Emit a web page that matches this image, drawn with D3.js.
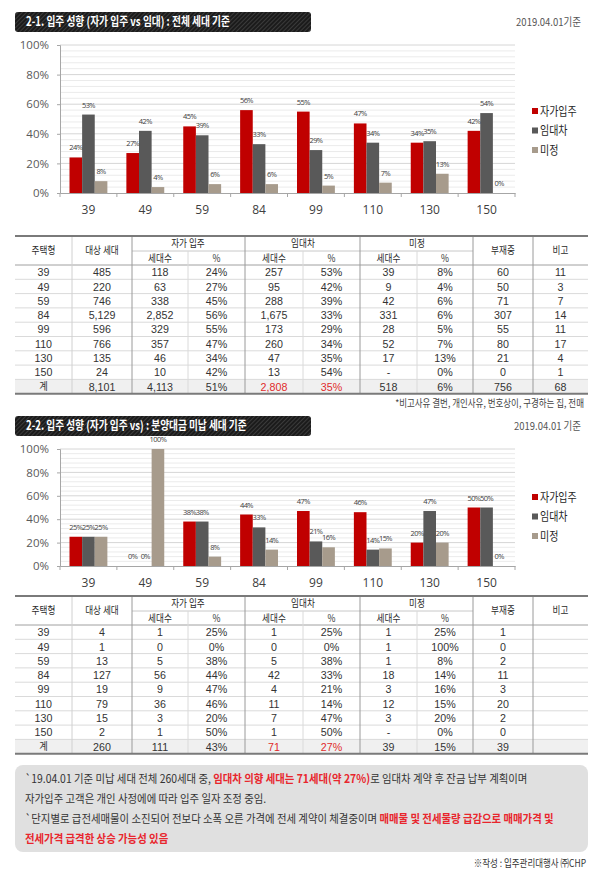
<!DOCTYPE html>
<html>
<head>
<meta charset="utf-8">
<script src="https://cdn.jsdelivr.net/npm/d3@7"></script>
<style>
body{margin:0;background:#fff}
svg{display:block}
</style>
</head>
<body>
<script>
// 데이터 - 주택형 / 계열
var types = ["39","49","59","84","99","110","130","150"];
var seriesNames = ["자가입주","임대차","미정"];
var colors = ["#c00000","#595959","#a79b8c"];
var yTicks = [0,20,40,60,80,100];

// 2-1 차트 (%)
var own1 = [24,27,45,56,55,47,34,42];
var rent1 = [53,42,39,33,29,34,35,54];
var undec1 = [8,4,6,6,5,7,13,0];

// 2-2 차트 (%)
var own2 = [25,0,38,44,47,46,20,50];
var rent2 = [25,0,38,33,21,14,47,50];
var undec2 = [25,100,8,14,16,15,20,0];

// 표 2-1
var rowLabels = ["39","49","59","84","99","110","130","150","계"];
var total1 = ["485","220","746","5,129","596","766","135","24","8,101"];
var ownCnt1 = ["118","63","338","2,852","329","357","46","10","4,113"];
var ownPct1 = ["24%","27%","45%","56%","55%","47%","34%","42%","51%"];
var rentCnt1 = ["257","95","288","1,675","173","260","47","13","2,808"];
var rentPct1 = ["53%","42%","39%","33%","29%","34%","35%","54%","35%"];
var undCnt1 = ["39","9","42","331","28","52","17","-","518"];
var undPct1 = ["8%","4%","6%","6%","5%","7%","13%","0%","6%"];
var absent1 = ["60","50","71","307","55","80","21","0","756"];
var note1 = ["11","3","7","14","11","17","4","1","68"];

// 표 2-2
var total2 = ["4","1","13","127","19","79","15","2","260"];
var ownCnt2 = ["1","0","5","56","9","36","3","1","111"];
var ownPct2 = ["25%","0%","38%","44%","47%","46%","20%","50%","43%"];
var rentCnt2 = ["1","0","5","42","4","11","7","1","71"];
var rentPct2 = ["25%","0%","38%","33%","21%","14%","47%","50%","27%"];
var undCnt2 = ["1","1","1","18","3","12","3","-","39"];
var undPct2 = ["25%","100%","8%","14%","16%","15%","20%","0%","15%"];
var absent2 = ["1","0","2","11","3","20","2","0","39"];
var note2 = ["","","","","","","","",""];

var KR = "'Noto Sans CJK KR', 'Noto Sans', sans-serif";
var NUM = "'Open Sans', 'Noto Sans', sans-serif";
var TNUM = "'Liberation Sans', Arial, sans-serif";

var svg = d3.select("body").append("svg").attr("width",605).attr("height",874);
var defs = svg.append("defs");
var pat = defs.append("pattern").attr("id","carbon").attr("width",3).attr("height",3)
    .attr("patternUnits","userSpaceOnUse").attr("patternTransform","rotate(45)");
pat.append("rect").attr("width",3).attr("height",3).attr("fill","#1b1b1b");
pat.append("rect").attr("width",1).attr("height",3).attr("fill","#3a3a3a");

// 글자 폭 맞추기
function fitText(t, width, anchor)
{
    let bb = t.node().getBBox();
    let s = width / bb.width;
    let x0 = anchor == "end" ? bb.x + bb.width : bb.x;
    t.attr("transform","translate("+x0+",0) scale("+s+",1) translate("+(-x0)+",0)");
    return s;
}
function condense(t, s)
{
    let x0 = +t.attr("x");
    t.attr("transform","translate("+x0+",0) scale("+s+",1) translate("+(-x0)+",0)");
}

// 제목 막대
function drawTitle(y, title, titleW, date, dateW)
{
    svg.append("rect").attr("x",15).attr("y",y).attr("width",296).attr("height",20).attr("rx",3)
        .attr("fill","url(#carbon)");
    let t = svg.append("text").attr("x",26).attr("y",y+14.5).attr("fill","#fff")
        .attr("font-family",KR).attr("font-weight","bold").attr("font-size",12.5).text(title);
    fitText(t, titleW, "start");
    let d = svg.append("text").attr("x",581).attr("y",y+14).attr("fill","#555")
        .attr("text-anchor","end").attr("font-family",KR).attr("font-size",11).text(date);
    fitText(d, dateW, "end");
}

// 막대 차트
function drawChart(top, bottom, own, rent, und, legendY)
{
    let y = d3.scaleLinear().domain([0,100]).range([bottom, top]);
    let x = d3.scaleBand().domain(types).range([60,515]);
    let xs = d3.scaleBand().domain([0,1,2]).range([9.5, x.bandwidth()-9.5]);
    let g = svg.append("g");

    let minor = d3.range(4,100,4).filter(v => v % 20 != 0);
    g.selectAll("line.minor").data(minor).join("line")
        .attr("x1",60).attr("x2",515).attr("y1",d => y(d)).attr("y2",d => y(d))
        .attr("stroke","#ebebeb").attr("stroke-width",1);
    g.selectAll("line.major").data(yTicks.slice(1)).join("line")
        .attr("x1",60).attr("x2",515).attr("y1",d => y(d)).attr("y2",d => y(d))
        .attr("stroke","#d6d6d6").attr("stroke-width",1);

    let rows = types.map((t,i) => ({t:t, vals:[own[i],rent[i],und[i]]}));
    let grp = g.selectAll("g.grp").data(rows).join("g").attr("transform",d => "translate("+x(d.t)+",0)");
    grp.selectAll("rect").data(d => d.vals).join("rect")
        .attr("x",(d,i) => xs(i)).attr("width",xs.bandwidth())
        .attr("y",d => y(d)).attr("height",d => y(0)-y(d))
        .attr("fill",(d,i) => colors[i]);
    grp.selectAll("text").data(d => d.vals).join("text")
        .attr("x",(d,i) => xs(i)+xs.bandwidth()/2).attr("y",d => y(d)-7)
        .attr("text-anchor","middle").attr("font-family",NUM).attr("font-size",7.5)
        .attr("letter-spacing",-0.6).attr("fill","#404040").text(d => d+"%");

    let ay = g.append("g").attr("transform","translate(60,0)")
        .call(d3.axisLeft(y).tickValues(yTicks).tickFormat(d => d+"%").tickSize(3).tickPadding(8));
    ay.select(".domain").attr("stroke","#a6a6a6");
    ay.selectAll(".tick line").attr("stroke","#a6a6a6");
    ay.selectAll("text").attr("font-family",NUM).attr("font-size",11.5).attr("fill","#595959");

    let ax = g.append("g").attr("transform","translate(0,"+bottom+")")
        .call(d3.axisBottom(x).tickSize(0).tickPadding(12));
    ax.select(".domain").attr("stroke","#a6a6a6");
    ax.selectAll("text").attr("font-family",NUM).attr("font-size",12).attr("fill","#404040");
    let edges = types.map(t => x(t)).concat([515]);
    g.selectAll("line.xt").data(edges).join("line")
        .attr("x1",d => d).attr("x2",d => d).attr("y1",bottom).attr("y2",bottom+4)
        .attr("stroke","#a6a6a6");

    let lg = g.selectAll("g.lg").data(seriesNames).join("g")
        .attr("transform",(d,i) => "translate(532,"+(legendY+i*19.5)+")");
    lg.append("rect").attr("x",0).attr("y",-3).attr("width",6).attr("height",6).attr("fill",(d,i) => colors[i]);
    lg.append("text").attr("x",8).attr("y",4.5).attr("font-family",KR).attr("font-size",12.5)
        .attr("fill","#262626").text(d => d).each(function(){ condense(d3.select(this),0.8); });
}

// 표
var colEdges = [15,72,132,188,245,303,360,417,473,533,588];
function drawTable(top, cols, redCols)
{
    let rowH = 14.3;
    let hb = top + 29;
    let bottom = hb + rowH*rowLabels.length;
    let g = svg.append("g");
    let mid = i => (colEdges[i]+colEdges[i+1])/2;

    g.append("rect").attr("x",15).attr("y",hb+rowH*8).attr("width",573).attr("height",rowH).attr("fill","#f0f0f0");

    // 가로선
    d3.range(1,9).forEach(i => {
        g.append("line").attr("x1",15).attr("x2",588).attr("y1",hb+rowH*i).attr("y2",hb+rowH*i)
            .attr("stroke","#dadada");
    });
    g.append("line").attr("x1",132).attr("x2",473).attr("y1",top+15).attr("y2",top+15).attr("stroke","#c8c8c8");
    g.append("line").attr("x1",15).attr("x2",588).attr("y1",hb).attr("y2",hb).attr("stroke","#a0a0a0");
    // 세로선
    [72].forEach(v => g.append("line").attr("x1",v).attr("x2",v).attr("y1",top).attr("y2",bottom).attr("stroke","#d0d0d0"));
    [132,245,360,473,533].forEach(v => g.append("line").attr("x1",v).attr("x2",v).attr("y1",top).attr("y2",bottom).attr("stroke","#9a9a9a"));
    [188,303,417].forEach(v => g.append("line").attr("x1",v).attr("x2",v).attr("y1",top+15).attr("y2",bottom).attr("stroke","#dadada"));
    g.append("line").attr("x1",15).attr("x2",588).attr("y1",top).attr("y2",top).attr("stroke","#7a7a7a").attr("stroke-width",2);
    g.append("line").attr("x1",15).attr("x2",588).attr("y1",bottom).attr("y2",bottom).attr("stroke","#7a7a7a").attr("stroke-width",2);

    // 머리글
    let head = [
        {t:"주택형", x:mid(0), y:top+14.5},
        {t:"대상 세대", x:mid(1), y:top+14.5},
        {t:"자가 입주", x:colEdges[3], y:top+7},
        {t:"임대차", x:colEdges[5], y:top+7},
        {t:"미정", x:colEdges[7], y:top+7},
        {t:"부재중", x:mid(8), y:top+14.5},
        {t:"비고", x:mid(9), y:top+14.5},
        {t:"세대수", x:mid(2), y:top+22.3}, {t:"%", x:mid(3), y:top+22.3},
        {t:"세대수", x:mid(4), y:top+22.3}, {t:"%", x:mid(5), y:top+22.3},
        {t:"세대수", x:mid(6), y:top+22.3}, {t:"%", x:mid(7), y:top+22.3}
    ];
    g.selectAll("text.h").data(head).join("text")
        .attr("x",d => d.x).attr("y",d => d.y+3.8).attr("text-anchor","middle")
        .attr("font-family",KR).attr("font-size",10.5).attr("fill","#2a2a2a").text(d => d.t)
        .each(function(){ condense(d3.select(this),0.82); });

    // 본문
    cols.forEach((col,c) => {
        g.selectAll("text.c"+c).data(col).join("text")
            .attr("x",mid(c)).attr("y",(d,r) => hb+rowH*r+rowH/2+(d == "계" ? 3.6 : 4.1))
            .attr("text-anchor","middle")
            .attr("font-family",d => d == "계" ? KR : TNUM)
            .attr("font-size",d => d == "계" ? 10 : 11.5)
            .attr("fill",(d,r) => (r == 8 && redCols.indexOf(c) >= 0) ? "#e02b2b" : "#333")
            .text(d => d)
            .each(function(){ condense(d3.select(this),0.93); });
    });
}

drawTitle(12, "2-1. 입주 성향 (자가 입주 vs 임대) : 전체 세대 기준", 204, "2019.04.01기준", 65);
drawChart(45, 193, own1, rent1, undec1, 111);
drawTable(236, [rowLabels,total1,ownCnt1,ownPct1,rentCnt1,rentPct1,undCnt1,undPct1,absent1,note1], [4,5]);

var fn = svg.append("text").attr("x",584).attr("y",407).attr("text-anchor","end")
    .attr("font-family",KR).attr("font-size",10).attr("fill","#444")
    .text("*비고사유 결번, 개인사유, 번호상이, 구경하는 집, 전매");
condense(fn,0.85);

drawTitle(416, "2-2. 입주 성향 (자가 입주 vs) : 분양대금 미납 세대 기준", 221, "2019.04.01 기준", 67);
drawChart(449, 566, own2, rent2, undec2, 497);
drawTable(596, [rowLabels,total2,ownCnt2,ownPct2,rentCnt2,rentPct2,undCnt2,undPct2,absent2,note2], [4,5]);

// 하단 설명 상자
svg.append("rect").attr("x",15).attr("y",765).attr("width",573).attr("height",87).attr("rx",8).attr("fill","#e0e0e0");
var red = "#e8262d";
var lines = [
    [["`19.04.01 기준 미납 세대 전체 260세대 중, ",0],["임대차 의향 세대는  71세대(약 27%)",1],["로 임대차 계약 후 잔금 납부 계획이며",0]],
    [["자가입주 고객은  개인 사정에에 따라 입주 일자 조정 중임.",0]],
    [["`단지별로 급전세매물이 소진되어 전보다 소폭 오른 가격에 전세 계약이 체결중이며 ",0],["매매물 및 전세물량 급감으로 매매가격 및",1]],
    [["전세가격 급격한 상승 가능성 있음",1]]
];
var boxTexts = lines.map((ln,i) => {
    let t = svg.append("text").attr("x",25).attr("y",783+i*20).attr("font-family",KR).attr("font-size",11.5).attr("fill","#333");
    ln.forEach(p => t.append("tspan").text(p[0]).attr("fill",p[1] ? red : "#333").attr("font-weight",p[1] ? "bold" : "normal"));
    return t;
});
var s3 = fitText(boxTexts[2], 529, "start");
boxTexts.forEach((t,i) => { if(i != 2) condense(t, s3); });

var cr = svg.append("text").attr("x",586).attr("y",867).attr("text-anchor","end")
    .attr("font-family",KR).attr("font-size",10).attr("fill","#333").text("※작성 : 입주관리대행사 ㈜CHP");
condense(cr,0.85);
</script>
</body>
</html>
